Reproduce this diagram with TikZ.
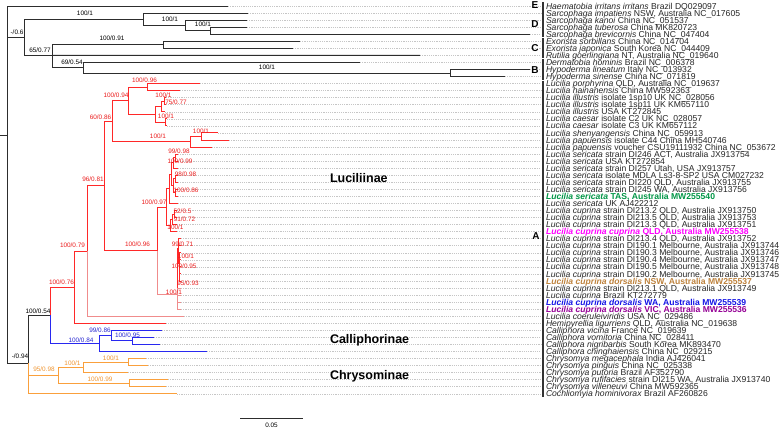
\documentclass[tikz,border=0pt]{standalone}
\usepackage{fontspec}
\setmainfont{Liberation Sans}
\usetikzlibrary{calc}
\definecolor{brk}{RGB}{45,45,45}
\definecolor{brd}{RGB}{255,40,40}
\definecolor{bpk}{RGB}{240,140,140}
\definecolor{bbl}{RGB}{40,40,240}
\definecolor{bog}{RGB}{250,160,60}
\definecolor{lrd}{RGB}{235,30,30}
\definecolor{lbl}{RGB}{40,40,210}
\definecolor{log}{RGB}{240,150,50}
\definecolor{hgr}{RGB}{0,150,70}
\definecolor{hmg}{RGB}{255,0,255}
\definecolor{htn}{RGB}{190,130,60}
\definecolor{hbl}{RGB}{20,20,230}
\definecolor{hpu}{RGB}{150,0,150}
\newcommand\ry[1]{{6+(#1-1)*7.05}}
\newcommand\Tx[3][]{\node[tax,#1] (L#2) at (546,{9.1+(#2-1)*7.05}) {#3};}
\newcommand\Lc{\textit{Lucilia cuprina}}
\newcommand\Ls{\textit{Lucilia sericata}}
\begin{document}
\begin{tikzpicture}[x=1pt,y=-1pt,
 every node/.style={inner sep=0pt, outer sep=0pt},
 bk/.style={draw=brk, line width=0.9pt},
 rd/.style={draw=brd, line width=0.9pt},
 pk/.style={draw=bpk, line width=0.9pt},
 bl/.style={draw=bbl, line width=0.9pt},
 og/.style={draw=bog, line width=0.9pt},
 leader/.style={draw=gray!45, line width=0.5pt, dash pattern=on 1.2pt off 1pt},
 tax/.style={anchor=base west, font=\fontsize{8.6}{8.6}\selectfont, text=black!85, text height=5pt, text depth=1pt},
 hl/.style={font=\fontsize{8.6}{8.6}\selectfont\bfseries},
 nl/.style={font=\fontsize{6.4}{6.4}\selectfont},
 grp/.style={font=\fontsize{10}{10}\selectfont\bfseries},
 sub/.style={font=\fontsize{12.5}{12.5}\selectfont\bfseries, anchor=west},
 bar/.style={draw=black!80, line width=1.1pt}
]
\fill[white] (0,0) rectangle (784,429);
\useasboundingbox (0,0) rectangle (784,429);

% ---------- tips ----------
\coordinate (t1) at (228,\ry{1});
\coordinate (t2) at (248,\ry{2});
\coordinate (t3) at (247,\ry{3});
\coordinate (t4) at (247,\ry{4});
\coordinate (t5) at (530,\ry{5});
\coordinate (t6) at (300,\ry{6});
\coordinate (t7) at (293,\ry{7});
\coordinate (t8) at (420,\ry{8});
\coordinate (t9) at (360,\ry{9});
\coordinate (t10) at (530,\ry{10});
\coordinate (t11) at (505,\ry{11});
\coordinate (t12) at (200,\ry{12});
\coordinate (t13) at (180,\ry{13});
\coordinate (t14) at (166,\ry{14});
\coordinate (t15) at (166,\ry{15});
\coordinate (t16) at (165,\ry{16});
\coordinate (t17) at (167,\ry{17});
\coordinate (t18) at (167,\ry{18});
\coordinate (t19) at (218,\ry{19});
\coordinate (t20) at (229,\ry{20});
\coordinate (t21) at (212,\ry{21});
\foreach \n in {22,...,29} {\coordinate (t\n) at (178,\ry{\n});}
\foreach \n in {30,...,33} {\coordinate (t\n) at (177,\ry{\n});}
\foreach \n in {34,...,44} {\coordinate (t\n) at (181,\ry{\n});}
\coordinate (t45) at (184,\ry{45});
\coordinate (t46) at (166,\ry{46});
\coordinate (t47) at (162,\ry{47});
\coordinate (t48) at (154,\ry{48});
\coordinate (t49) at (160,\ry{49});
\coordinate (t50) at (207,\ry{50});
\coordinate (t51) at (146,\ry{51});
\coordinate (t52) at (148,\ry{52});
\coordinate (t53) at (128,\ry{53});
\coordinate (t54) at (168,\ry{54});
\coordinate (t55) at (166,\ry{55});
\coordinate (t56) at (177,\ry{56});

% ---------- internal nodes ----------
\coordinate (nR0) at (0,135);
\coordinate (nR) at (7,135);
\coordinate (n06) at (24,37.2);
\coordinate (nS) at (143,19.1);
\coordinate (nS2) at (185,25.3);
\coordinate (nS3) at (210,30.6);
\coordinate (n65) at (52,55.35);
\coordinate (nE) at (163,44.8);
\coordinate (nOe) at (83,67.7);
\coordinate (nH) at (450,73);
\coordinate (n94) at (28,363);
\coordinate (n54) at (50,315.3);
\coordinate (n76) at (74,287.1);
\coordinate (n79) at (87,251);
\coordinate (n81) at (104,185.9);
\coordinate (n86) at (112,121.2);
\coordinate (n94b) at (128,100.7);
\coordinate (n96a) at (147,87.05);
\coordinate (nX) at (155,114.4);
\coordinate (nI) at (161,106.5);
\coordinate (nI2) at (164,101.2);
\coordinate (nCa) at (165,122.3);
\coordinate (nP) at (190,141.75);
\coordinate (nP2) at (201,136.45);
\coordinate (n96b) at (157,250.5);
\coordinate (n97) at (166,207.1);
\coordinate (nSr) at (169,188.9);
\coordinate (nSx) at (171,174.3);
\coordinate (nSa) at (173,162.9);
\coordinate (nS99) at (175,157.6);
\coordinate (nSy) at (173,185.8);
\coordinate (nS98) at (175,178.7);
\coordinate (nS86) at (175,192.8);
\coordinate (nC1) at (170,225.4);
\coordinate (nC91) at (172,219.3);
\coordinate (nC52) at (174,214);
\coordinate (nL) at (177,294);
\coordinate (nM1) at (178.5,248);
\coordinate (nM2) at (179.5,263);
\coordinate (n84) at (99,343.5);
\coordinate (nB86) at (111,335.6);
\coordinate (nB95) at (132,340.9);
\coordinate (nC) at (58,375.2);
\coordinate (nCh1) at (83,367.3);
\coordinate (nCh11) at (128,362);
\coordinate (nCh2) at (129,383.2);

% ---------- taxon names ----------
\Tx{1}{\textit{Haematobia irritans irritans} Brazil DQ029097}
\Tx{2}{\textit{Sarcophaga impatiens} NSW, Australia NC\_017605}
\Tx{3}{\textit{Sarcophaga kanoi} China NC\_051537}
\Tx{4}{\textit{Sarcophaga tuberosa} China MK820723}
\Tx{5}{\textit{Sarcophaga brevicornis} China NC\_047404}
\Tx{6}{\textit{Exorista sorbillans} China NC\_014704}
\Tx{7}{\textit{Exorista japonica} South Korea NC\_044409}
\Tx{8}{\textit{Rutilia goerlingiana} NT, Australia NC\_019640}
\Tx{9}{\textit{Dermatobia hominis} Brazil NC\_006378}
\Tx{10}{\textit{Hypoderma lineatum} Italy NC\_013932}
\Tx{11}{\textit{Hypoderma sinense} China NC\_071819}
\Tx{12}{\textit{Lucilia porphyrina} QLD, Australia NC\_019637}
\Tx{13}{\textit{Lucilia hainanensis} China MW592363}
\Tx{14}{\textit{Lucilia illustris} isolate 1sp10 UK NC\_028056}
\Tx{15}{\textit{Lucilia illustris} isolate 1sp11 UK KM657110}
\Tx{16}{\textit{Lucilia illustris} USA KT272845}
\Tx{17}{\textit{Lucilia caesar} isolate C2 UK NC\_028057}
\Tx{18}{\textit{Lucilia caesar} isolate C3 UK KM657112}
\Tx{19}{\textit{Lucilia shenyangensis} China NC\_059913}
\Tx{20}{\textit{Lucilia papuensis} isolate C44 China MH540746}
\Tx{21}{\textit{Lucilia papuensis} voucher CSU19111932 China NC\_053672}
\Tx{22}{\Ls{} strain DI246 ACT, Australia JX913754}
\Tx{23}{\Ls{} USA KT272854}
\Tx{24}{\Ls{} strain DI257 Utah, USA JX913757}
\Tx{25}{\Ls{} isolate MDLA Ls3-8-SP2 USA CM027232}
\Tx{26}{\Ls{} strain DI220 QLD, Australia JX913755}
\Tx{27}{\Ls{} strain DI245 WA, Australia JX913756}
\Tx[hl,text=hgr]{28}{\Ls{} TAS, Australia MW255540}
\Tx{29}{\Ls{} UK AJ422212}
\Tx{30}{\Lc{} strain DI213.2 QLD, Australia JX913750}
\Tx{31}{\Lc{} strain DI213.5 QLD, Australia JX913753}
\Tx{32}{\Lc{} strain DI213.3 QLD, Australia JX913751}
\Tx[hl,text=hmg]{33}{\textit{Lucilia cuprina cuprina} QLD, Australia MW255538}
\Tx{34}{\Lc{} strain DI213.4 QLD, Australia JX913752}
\Tx{35}{\Lc{} strain DI190.1 Melbourne, Australia JX913744}
\Tx{36}{\Lc{} strain DI190.3 Melbourne, Australia JX913746}
\Tx{37}{\Lc{} strain DI190.4 Melbourne, Australia JX913747}
\Tx{38}{\Lc{} strain DI190.5 Melbourne, Australia JX913748}
\Tx{39}{\Lc{} strain DI190.2 Melbourne, Australia JX913745}
\Tx[hl,text=htn]{40}{\textit{Lucilia cuprina dorsalis} NSW, Australia MW255537}
\Tx{41}{\Lc{} strain DI213.1 QLD, Australia JX913749}
\Tx{42}{\Lc{} Brazil KT272779}
\Tx[hl,text=hbl]{43}{\textit{Lucilia cuprina dorsalis} WA, Australia MW255539}
\Tx[hl,text=hpu]{44}{\textit{Lucilia cuprina dorsalis} VIC, Australia MW255536}
\Tx{45}{\textit{Lucilia coeruleiviridis} USA NC\_029486}
\Tx{46}{\textit{Hemipyrellia ligurriens} QLD, Australia NC\_019638}
\Tx{47}{\textit{Calliphora vicina} France NC\_019639}
\Tx{48}{\textit{Calliphora vomitoria} China NC\_028411}
\Tx{49}{\textit{Calliphora nigribarbis} South Korea MK893470}
\Tx{50}{\textit{Calliphora chinghaiensis} China NC\_029215}
\Tx{51}{\textit{Chrysomya megacephala} India AJ426041}
\Tx{52}{\textit{Chrysomya pinguis} China NC\_025338}
\Tx{53}{\textit{Chrysomya putoria} Brazil AF352790}
\Tx{54}{\textit{Chrysomya rufifacies} strain DI215 WA, Australia JX913740}
\Tx{55}{\textit{Chrysomya villeneuvi} China MW592365}
\Tx{56}{\textit{Cochliomyia hominivorax} Brazil AF260826}

% ---------- leaders ----------
\foreach \n in {1,...,56} {\draw[leader] (t\n) -- ($(t\n -| L\n.west)+(-5,0)$);}

% ---------- branches: outgroups ----------
\draw[bk] (nR0) -- (nR);
\draw[bk] (nR) |- (t1);
\draw[bk] (nR) |- (n06);
\draw[bk] (nR) |- (n94);
\draw[bk] (n06) |- (nS);
\draw[bk] (n06) |- (n65);
\draw[bk] (nS) |- (t2);
\draw[bk] (nS) |- (nS2);
\draw[bk] (nS2) |- (t3);
\draw[bk] (nS2) |- (nS3);
\draw[bk] (nS3) |- (t4);
\draw[bk] (nS3) |- (t5);
\draw[bk] (n65) |- (nE);
\draw[bk] (n65) -- (t8);
\draw[bk] (n65) |- (nOe);
\draw[bk] (nE) |- (t6);
\draw[bk] (nE) |- (t7);
\draw[bk] (nOe) |- (t9);
\draw[bk] (nOe) |- (nH);
\draw[bk] (nH) |- (t10);
\draw[bk] (nH) |- (t11);
\draw[bk] (n94) |- (n54);
\draw[og] (n94) |- (nC);
\draw[og] (n94) |- (t56);
% ---------- Luciliinae ----------
\draw[rd] (n54) |- (n76);
\draw[rd] (n76) |- (n79);
\draw[rd] (n76) |- (t46);
\draw[rd] (n79) |- (n81);
\draw[pk] (n79) |- (t45);
\draw[rd] (n81) |- (n86);
\draw[rd] (n81) |- (n96b);
\draw[rd] (n86) |- (n94b);
\draw[rd] (n86) |- (nP);
\draw[rd] (n94b) |- (n96a);
\draw[rd] (n94b) |- (nX);
\draw[rd] (n96a) |- (t12);
\draw[rd] (n96a) |- (t13);
\draw[rd] (nX) |- (nI);
\draw[rd] (nX) |- (nCa);
\draw[rd] (nI) |- (nI2);
\draw[rd] (nI) |- (t16);
\draw[rd] (nI2) |- (t14);
\draw[rd] (nI2) |- (t15);
\draw[rd] (nCa) |- (t17);
\draw[rd] (nCa) |- (t18);
\draw[rd] (nP) |- (nP2);
\draw[rd] (nP) |- (t21);
\draw[rd] (nP2) |- (t19);
\draw[rd] (nP2) |- (t20);
\draw[rd] (n96b) |- (n97);
\draw[pk] (n96b) |- (nL);
\draw[rd] (n97) |- (nSr);
\draw[rd] (n97) |- (nC1);
\draw[rd] (nSr) |- (nSx);
\draw[rd] (nSr) |- (t29);
\draw[rd] (nSx) |- (nSa);
\draw[rd] (nSx) |- (nSy);
\draw[rd] (nSa) |- (nS99);
\draw[rd] (nSa) |- (t24);
\draw[rd] (nS99) |- (t22);
\draw[rd] (nS99) |- (t23);
\draw[rd] (nSy) |- (nS98);
\draw[rd] (nSy) |- (nS86);
\draw[rd] (nS98) |- (t25);
\draw[rd] (nS98) |- (t26);
\draw[rd] (nS86) |- (t27);
\draw[rd] (nS86) |- (t28);
\draw[rd] (nC1) |- (nC91);
\draw[rd] (nC1) |- (t33);
\draw[rd] (nC91) |- (nC52);
\draw[rd] (nC91) |- (t32);
\draw[rd] (nC52) |- (t30);
\draw[rd] (nC52) |- (t31);
\draw[rd] (nL) |- (nM1);
\foreach \n in {41,...,44} {\draw[pk] (nL) |- (t\n);}
\draw[rd] (nM1) |- (t34);
\draw[rd] (nM1) |- (t35);
\draw[rd] (nM1) |- (nM2);
\foreach \n in {36,...,40} {\draw[rd] (nM2) |- (t\n);}
% ---------- Calliphorinae ----------
\draw[bl] (n54) |- (n84);
\draw[bl] (n84) |- (nB86);
\draw[bl] (n84) |- (t50);
\draw[bl] (nB86) |- (t47);
\draw[bl] (nB86) |- (nB95);
\draw[bl] (nB95) |- (t48);
\draw[bl] (nB95) |- (t49);
% ---------- Chrysomyinae ----------
\draw[og] (nC) |- (nCh1);
\draw[og] (nC) |- (nCh2);
\draw[og] (nCh1) |- (nCh11);
\draw[og] (nCh1) |- (t53);
\draw[og] (nCh11) |- (t51);
\draw[og] (nCh11) |- (t52);
\draw[og] (nCh2) |- (t54);
\draw[og] (nCh2) |- (t55);

% ---------- support labels ----------
\node[nl] (s1) at (17,32) {-/0.6};
\node[nl] (s2) at (85,13) {100/1};
\node[nl] (s3) at (170,19) {100/1};
\node[nl] (s4) at (203,24) {100/1};
\node[nl] (s5) at (112,38) {100/0.91};
\node[nl] (s6) at (40,50) {65/0.77};
\node[nl] (s7) at (72,62) {69/0.54};
\node[nl] (s8) at (267,67) {100/1};
\node[nl] (s9) at (38,311) {100/0.54};
\node[nl] (s10) at (20,356) {-/0.94};
\begin{scope}[every node/.append style={text=lrd}]
\node[nl] (r1) at (144.5,80) {100/0.96};
\node[nl] (r2) at (116,95) {100/0.94};
\node[nl] (r3) at (163.5,95) {100/1};
\node[nl] (r4) at (176,102) {75/0.77};
\node[nl] (r5) at (166,116) {100/1};
\node[nl] (r6) at (100.5,117) {60/0.86};
\node[nl] (r7) at (158,136) {100/1};
\node[nl] (r8) at (201,131) {100/1};
\node[nl] (r9) at (179,151) {99/0.98};
\node[nl] (r10) at (180,161) {100/0.99};
\node[nl] (r11) at (185.5,174) {98/0.98};
\node[nl] (r12) at (93,179) {96/0.81};
\node[nl] (r13) at (186,190) {100/0.86};
\node[nl] (r14) at (154,202) {100/0.97};
\node[nl] (r15) at (182.5,211) {52/0.5};
\node[nl] (r16) at (184.5,219) {91/0.72};
\node[nl] (r17) at (175.5,227) {100/1};
\node[nl] (r18) at (72.5,245) {100/0.79};
\node[nl] (r19) at (137.5,244) {100/0.96};
\node[nl] (r20) at (182.5,244) {99/0.71};
\node[nl] (r21) at (186,256) {100/1};
\node[nl] (r22) at (184,266) {100/0.95};
\node[nl] (r23) at (188,283) {95/0.93};
\node[nl] (r24) at (174,292) {100/1};
\node[nl] (r25) at (61.5,282) {100/0.76};
\end{scope}
\begin{scope}[every node/.append style={text=lbl}]
\node[nl] (b1) at (100,330) {99/0.86};
\node[nl] (b2) at (127.5,335) {100/0.95};
\node[nl] (b3) at (81,340) {100/0.84};
\end{scope}
\begin{scope}[every node/.append style={text=log}]
\node[nl] (o1) at (111,358) {100/1};
\node[nl] (o2) at (72.5,363) {100/1};
\node[nl] (o3) at (44,369) {95/0.98};
\node[nl] (o4) at (100,379) {100/0.99};
\end{scope}

% ---------- subfamily labels ----------
\node[sub] (gL) at (330,178) {Luciliinae};
\node[sub] (gCa) at (330,340) {Calliphorinae};
\node[sub] (gCh) at (330,376) {Chrysominae};

% ---------- group bars and letters ----------
\draw[bar] ($(t1 -| L1.west)+(-3,-3.8)$) -- ($(t1 -| L1.west)+(-3,3.5)$);
\draw[bar] ($(t2 -| L2.west)+(-3,-3)$) -- ($(t5 -| L5.west)+(-3,3)$);
\draw[bar] ($(t6 -| L6.west)+(-3,-3)$) -- ($(t8 -| L8.west)+(-3,3)$);
\draw[bar] ($(t9 -| L9.west)+(-3,-3)$) -- ($(t11 -| L11.west)+(-3,3)$);
\draw[bar] ($(t12 -| L12.west)+(-3,-3)$) -- ($(t56 -| L56.west)+(-3,3.5)$);
\node[grp] (gE) at (535,5) {E};
\node[grp] (gD) at (535,24) {D};
\node[grp] (gC) at (535,48) {C};
\node[grp] (gB) at (535,70) {B};
\node[grp] (gA) at (536,236) {A};

% ---------- scale bar ----------
\coordinate (sb1) at (240,418);
\coordinate (sb2) at (303,418);
\draw[bk] (sb1) -- (sb2);
\node[nl] (sbl) at (271.5,425.5) {0.05};
\end{tikzpicture}
\end{document}
